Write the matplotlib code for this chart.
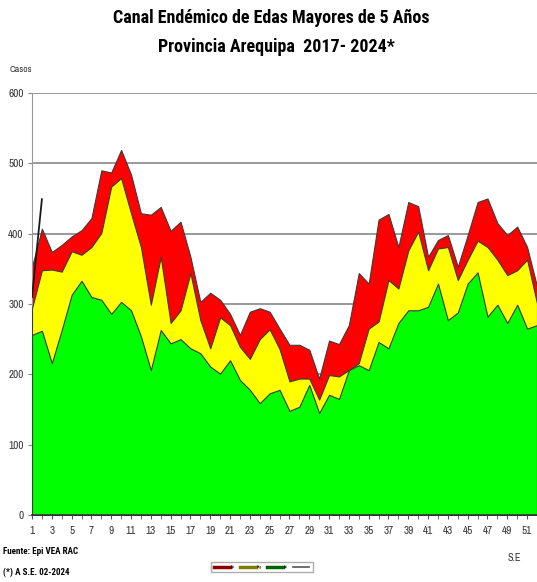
import matplotlib
matplotlib.use("Agg")
import matplotlib.pyplot as plt
from matplotlib import font_manager
from matplotlib.lines import Line2D

# semanas epidemiologicas
weeks = list(range(1, 53))

# limites del canal endemico (percentiles)
epidemia = [353, 407, 374, 384, 396, 405, 422, 490, 487, 519,
            484, 429, 427, 438, 404, 417, 367, 303, 316, 306,
            286, 256, 289, 294, 289, 265, 242, 242, 235, 194,
            248, 243, 270, 344, 329, 420, 428, 381, 445, 439,
            367, 391, 398, 353, 398, 445, 450, 415, 398, 410,
            381, 325]
seguridad = [294, 348, 349, 346, 375, 370, 381, 401, 467, 479,
             429, 381, 299, 367, 273, 291, 344, 277, 237, 281,
             270, 239, 222, 250, 264, 236, 190, 194, 194, 164,
             199, 197, 206, 216, 265, 275, 334, 322, 376, 403,
             348, 379, 381, 334, 363, 390, 381, 363, 341, 348,
             363, 301]
exito = [256, 262, 216, 263, 313, 333, 310, 306, 286, 303,
         291, 254, 206, 263, 244, 250, 237, 230, 211, 201,
         220, 192, 178, 159, 173, 178, 148, 154, 185, 145,
         171, 165, 206, 213, 206, 246, 237, 273, 291, 291,
         296, 329, 277, 288, 329, 345, 282, 299, 273, 299,
         265, 270]

# casos 2024
weeks_2024 = [1, 2]
casos_2024 = [310, 449]


def pick_font(candidates, weight):
    fonts = font_manager.fontManager.ttflist
    for name in candidates:
        if any(f.name == name and f.weight == weight for f in fonts):
            return name
    return "DejaVu Sans"


body_font = pick_font(["Archivo Narrow", "Roboto Condensed", "Asap Condensed"], 400)
bold_font = pick_font(["Roboto Condensed", "Archivo Narrow", "Asap Condensed", "Barlow Condensed"], 700)
plt.rcParams["font.family"] = [body_font, "DejaVu Sans"]

fig = plt.figure(figsize=(5.37, 5.82), dpi=100)
ax = fig.add_axes([32 / 537, 1 - 515 / 582, 505 / 537, 422 / 582])

edge = "#3a3a3a"
ax.fill_between(weeks, 0, epidemia, facecolor="#ff0000", edgecolor=edge, linewidth=0.8, zorder=2)
ax.fill_between(weeks, 0, seguridad, facecolor="#ffff00", edgecolor=edge, linewidth=0.8, zorder=3)
ax.fill_between(weeks, 0, exito, facecolor="#00ff00", edgecolor=edge, linewidth=0.8, zorder=4)
ax.plot(weeks_2024, casos_2024, color="#1a1a1a", linewidth=1.3, zorder=5)

ax.set_xlim(1, 51.6)
ax.set_ylim(0, 600)
ax.set_yticks(range(0, 601, 100))
ax.set_xticks(weeks, minor=True)
ax.set_xticks(range(1, 52, 2))
ax.tick_params(axis="x", which="both", direction="out", length=3, color="#555555",
               labelsize=8, labelcolor="#333333", pad=5)
ax.tick_params(axis="y", direction="out", length=3, color="#888888",
               labelsize=8, labelcolor="#333333", pad=3)
ax.yaxis.grid(True, color="#888888", linewidth=1.2, zorder=1)
ax.set_axisbelow(True)
for side in ["top", "right"]:
    ax.spines[side].set_visible(False)
ax.spines["left"].set_color("#999999")
ax.spines["bottom"].set_color("#333333")
ax.spines["bottom"].set_linewidth(1.2)
ax.spines["bottom"].set_zorder(6)

title_kw = dict(ha="center", va="center", fontsize=13, fontweight="bold",
                family=[bold_font, "DejaVu Sans"])
fig.text(271 / 537, 1 - 18 / 582, "Canal Endémico de Edas Mayores de 5 Años", **title_kw)
fig.text(276 / 537, 1 - 47 / 582, "Provincia Arequipa  2017- 2024*", **title_kw)
fig.text(10 / 537, 1 - 70 / 582, "Casos", ha="left", va="center", fontsize=7, color="#333333")
fig.text(508 / 537, 1 - 558 / 582, "S.E", ha="left", va="center", fontsize=7.5, color="#333333")
foot_kw = dict(ha="left", va="center", fontsize=6.5, fontweight="bold",
               family=[bold_font, "DejaVu Sans"])
fig.text(3 / 537, 1 - 552 / 582, "Fuente: Epi VEA RAC", **foot_kw)
fig.text(3 / 537, 1 - 572 / 582, "(*) A S.E. 02-2024", **foot_kw)

handles = [
    Line2D([], [], color="#8b0000", linewidth=2.5),
    Line2D([], [], color="#808000", linewidth=2.5),
    Line2D([], [], color="#006400", linewidth=2.5),
    Line2D([], [], color="#555555", linewidth=1.2),
]
labels = ["Epi", "Seg", "Éxi", ""]
fig.legend(handles, labels, loc="center", bbox_to_anchor=(262 / 537, 1 - 567 / 582),
           ncol=4, fontsize=2.5, frameon=True, fancybox=False, edgecolor="#999999",
           handlelength=4.5, handletextpad=0.4, columnspacing=1.4, borderpad=0.9)

fig.savefig("out.png", dpi=100)
